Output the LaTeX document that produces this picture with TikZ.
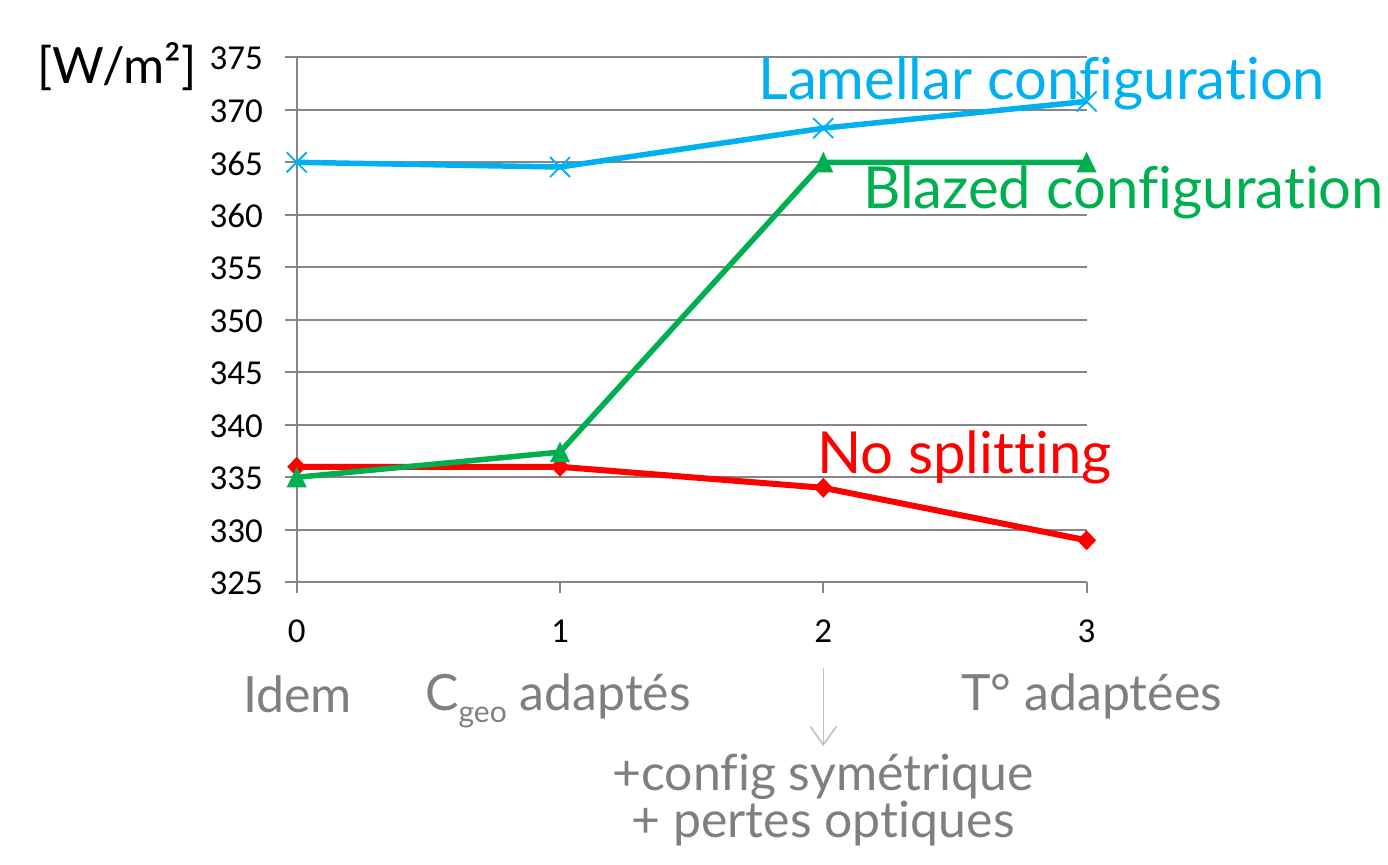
\documentclass[tikz,border=0pt]{standalone}
\usepackage{fontspec}
\setmainfont{Lato}[Ligatures={NoCommon,NoRequired,NoContextual}]
\newfontfamily\tickfont{Carlito}
\usetikzlibrary{arrows.meta}
\definecolor{cblue}{HTML}{00B0F0}
\definecolor{cgreen}{HTML}{00B050}
\definecolor{cred}{HTML}{FF0000}
\definecolor{cgrid}{HTML}{868686}
\definecolor{ctext}{HTML}{7F7F7F}
\definecolor{carrow}{HTML}{BFBFBF}
\tikzset{
  grid/.style={draw=cgrid, line width=2bp},
  serie/.style={line width=5.5bp, line join=round},
  tick/.style={font=\tickfont\fontsize{35bp}{40bp}\selectfont, text=black, inner sep=0pt},
  big/.style={font=\fontsize{58bp}{62bp}\selectfont, inner sep=0pt},
  grey/.style={font=\fontsize{50bp}{56bp}\selectfont, text=ctext, inner sep=0pt},
}
\begin{document}
\begin{tikzpicture}[x=1bp,y=-1bp]
\useasboundingbox (0,0) rectangle (1388,864);
% grid lines
\foreach \v in {325,330,...,375}{
  \draw[grid] (285,{582.3-10.5*(\v-325)}) -- (1087,{582.3-10.5*(\v-325)});
  \node[tick, anchor=east] (t\v) at (263,{583.5-10.5*(\v-325)}) {\v};
}
\draw[grid] (296.7,57.3) -- (296.7,593);
\foreach \i in {1,2,3}{
  \draw[grid] ({296.7+263.3*\i},582.3) -- ({296.7+263.3*\i},593);
}
\foreach \i in {0,1,2,3}{
  \node[tick] (x\i) at ({296.7+263.3*\i},631) {\i};
}
% data coordinates
\coordinate (l0) at (296.7,{582.3-10.5*(365-325)});
\coordinate (l1) at (560.0,{582.3-10.5*(364.55-325)});
\coordinate (l2) at (823.3,{582.3-10.5*(368.25-325)});
\coordinate (l3) at (1086.6,{582.3-10.5*(370.8-325)});
\coordinate (b0) at (296.7,{582.3-10.5*(335-325)});
\coordinate (b1) at (560.0,{582.3-10.5*(337.4-325)});
\coordinate (b2) at (823.3,{582.3-10.5*(365-325)});
\coordinate (b3) at (1086.6,{582.3-10.5*(365-325)});
\coordinate (r0) at (296.7,{582.3-10.5*(336-325)});
\coordinate (r1) at (560.0,{582.3-10.5*(336-325)});
\coordinate (r2) at (823.3,{582.3-10.5*(334-325)});
\coordinate (r3) at (1086.6,{582.3-10.5*(329-325)});
% series
\draw[serie, cred, line width=6bp] (r0) -- (r1) -- (r2) -- (r3);
\foreach \p in {r0,r1,r2,r3}{
  \fill[cred] (\p) ++(0,-10) -- ++(9.5,10) -- ++(-9.5,10) -- ++(-9.5,-10) -- cycle;
}
\draw[serie, cgreen] (b0) -- (b1) -- (b2) -- (b3);
\foreach \p in {b0,b1,b2,b3}{
  \fill[cgreen] (\p) ++(0,-10.5) -- ++(10,20.5) -- ++(-20,0) -- cycle;
}
\draw[serie, cblue] (l0) -- (l1) -- (l2) -- (l3);
\foreach \p in {l0,l1,l2,l3}{
  \draw[cblue, line width=1.8bp] (\p) ++(-10,-10) -- ++(20,20) ++(0,-20) -- ++(-20,20);
}
% series labels
\node[big, text=cblue, anchor=base west] (lam) at (758,99) {Lamellar configuration};
\node[big, text=cgreen, anchor=base west] (bla) at (863,208) {Blazed configuration};
\node[big, text=cred, anchor=base west] (nos) at (817,473) {No splitting};
\node[font=\fontsize{50bp}{54bp}\selectfont, inner sep=0pt, anchor=base west] (unit) at (37,83) {[W/m²]};
% category labels
\node[grey, anchor=base west] (idem) at (243,712) {Idem};
\node[grey, anchor=base west] (cgeo) at (425,710) {C\raisebox{-12bp}{\fontsize{30bp}{30bp}\selectfont geo} adaptés};
\node[grey, anchor=base west] (tadp) at (961,710) {T° adaptées};
\node[grey, anchor=base] (conf) at (823,790) {+config symétrique};
\node[grey, anchor=base] (pert) at (823,837) {+ pertes optiques};
% arrow
\coordinate (arrS) at (823.3,668);
\coordinate (arrE) at (823.3,746);
\draw[carrow, line width=1.6bp, -{Straight Barb[length=18bp,width=26bp,line width=1.6bp]}] (arrS) -- (arrE);
\end{tikzpicture}
\end{document}
